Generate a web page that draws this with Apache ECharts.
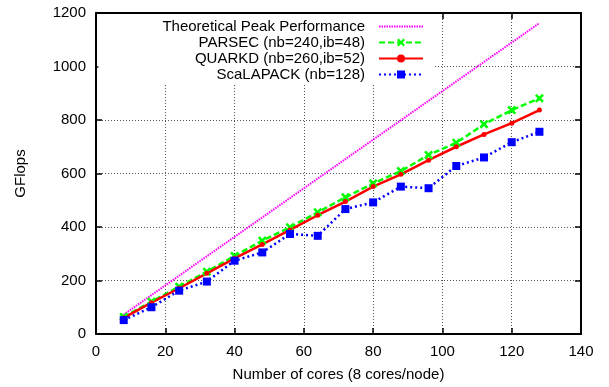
<!DOCTYPE html>
<html>
<head>
<meta charset="utf-8">
<script src="https://cdn.jsdelivr.net/npm/echarts@6/dist/echarts.min.js"></script>
<style>
  html, body { margin: 0; padding: 0; background: #fff; }
  #chart { width: 609px; height: 387px; }
</style>
</head>
<body>
<div id="chart"></div>
<script>
// number of cores (8 cores/node)
const cores = [8, 16, 24, 32, 40, 48, 56, 64, 72, 80, 88, 96, 104, 112, 120, 128];

// GFlops per series
const peak = [72.6, 145.3, 217.9, 290.6, 363.2, 435.8, 508.4, 581.1, 653.8, 726.4, 799.0, 871.7, 944.3, 1017.0, 1089.6, 1162.2];
const parsec = [64, 121, 177, 233, 292, 349, 399, 455, 511, 563, 609, 669, 715, 784, 837, 881];
const quarkd = [60, 117, 171, 227, 283, 335, 389, 444, 495, 551, 597, 650, 700, 746, 788, 837];
const scalapack = [52, 100, 162, 196, 274, 305, 374, 367, 467, 492, 551, 545, 628, 660, 717, 756];

const names = [
  'Theoretical Peak Performance',
  'PARSEC (nb=240,ib=48)',
  'QUARKD (nb=260,ib=52)',
  'ScaLAPACK (nb=128)',
];

const FONT = '"Liberation Sans", Arial, sans-serif';
const CROSS = 'path://M2,0 L5,3 L8,0 L10,2 L7,5 L10,8 L8,10 L5,7 L2,10 L0,8 L3,5 L0,2 Z';

const pairs = vals => cores.map((c, i) => [c, vals[i]]);

const axisLine = { show: true, onZero: false, lineStyle: { color: '#000', width: 2 } };
const tick = { show: true, inside: true, length: 6, lineStyle: { color: '#000', width: 1.5 } };
const grid = { show: true, lineStyle: { color: '#555', type: [1, 2], width: 1 } };
const label = { color: '#000', fontFamily: FONT, fontSize: 15 };

const chart = echarts.init(document.getElementById('chart'));

chart.setOption({
  animation: false,
  backgroundColor: '#fff',
  grid: { left: 96, right: 28, top: 13, bottom: 53 },
  legend: {
    // the peak line has no marker, so hide the symbol in its legend sample
    data: [
      { name: names[0], itemStyle: { color: 'rgba(0,0,0,0)', borderWidth: 0 } },
      names[1], names[2], names[3],
    ],
    orient: 'vertical',
    align: 'right',
    right: 175,
    top: 14,
    padding: [5, 10, 2, 64],
    backgroundColor: '#fff',
    itemWidth: 44,
    itemHeight: 10,
    itemGap: 1,
    textStyle: { color: '#000', fontFamily: FONT, fontSize: 15, padding: [0, 9, 0, 0] },
  },
  xAxis: [
    {
      type: 'value', position: 'bottom', min: 0, max: 140, interval: 20,
      name: 'Number of cores (8 cores/node)', nameLocation: 'middle', nameGap: 33,
      nameTextStyle: label,
      axisLine, axisTick: tick, splitLine: grid,
      axisLabel: { ...label, margin: 10 },
    },
    {
      type: 'value', position: 'top', min: 0, max: 140, interval: 20,
      axisLine, axisTick: tick, splitLine: { show: false }, axisLabel: { show: false },
    },
  ],
  yAxis: [
    {
      type: 'value', position: 'left', min: 0, max: 1200, interval: 200,
      name: 'GFlops', nameLocation: 'middle', nameGap: 68,
      nameTextStyle: label,
      axisLine, axisTick: tick, splitLine: grid,
      axisLabel: { ...label, margin: 10, formatter: v => String(v) },
    },
    {
      type: 'value', position: 'right', min: 0, max: 1200, interval: 200,
      axisLine, axisTick: tick, splitLine: { show: false }, axisLabel: { show: false },
    },
  ],
  series: [
    {
      name: names[0], type: 'line', data: pairs(peak),
      symbol: 'none', color: '#ff00ff',
      lineStyle: { color: '#ff00ff', width: 2, type: [1.5, 1] },
    },
    {
      name: names[1], type: 'line', data: pairs(parsec),
      symbol: CROSS, symbolSize: 9, color: '#00ff00',
      itemStyle: { color: '#00ff00' },
      lineStyle: { color: '#00ff00', width: 2.5, type: [6, 3] },
    },
    {
      name: names[2], type: 'line', data: pairs(quarkd),
      symbol: 'circle', symbolSize: 5, color: '#ff0000',
      itemStyle: { color: '#ff0000' },
      lineStyle: { color: '#ff0000', width: 2.5, type: 'solid' },
    },
    {
      name: names[3], type: 'line', data: pairs(scalapack),
      symbol: 'rect', symbolSize: 8, color: '#0000ff',
      itemStyle: { color: '#0000ff' },
      lineStyle: { color: '#0000ff', width: 2.5, type: [2, 3] },
    },
  ],
});
</script>
</body>
</html>
